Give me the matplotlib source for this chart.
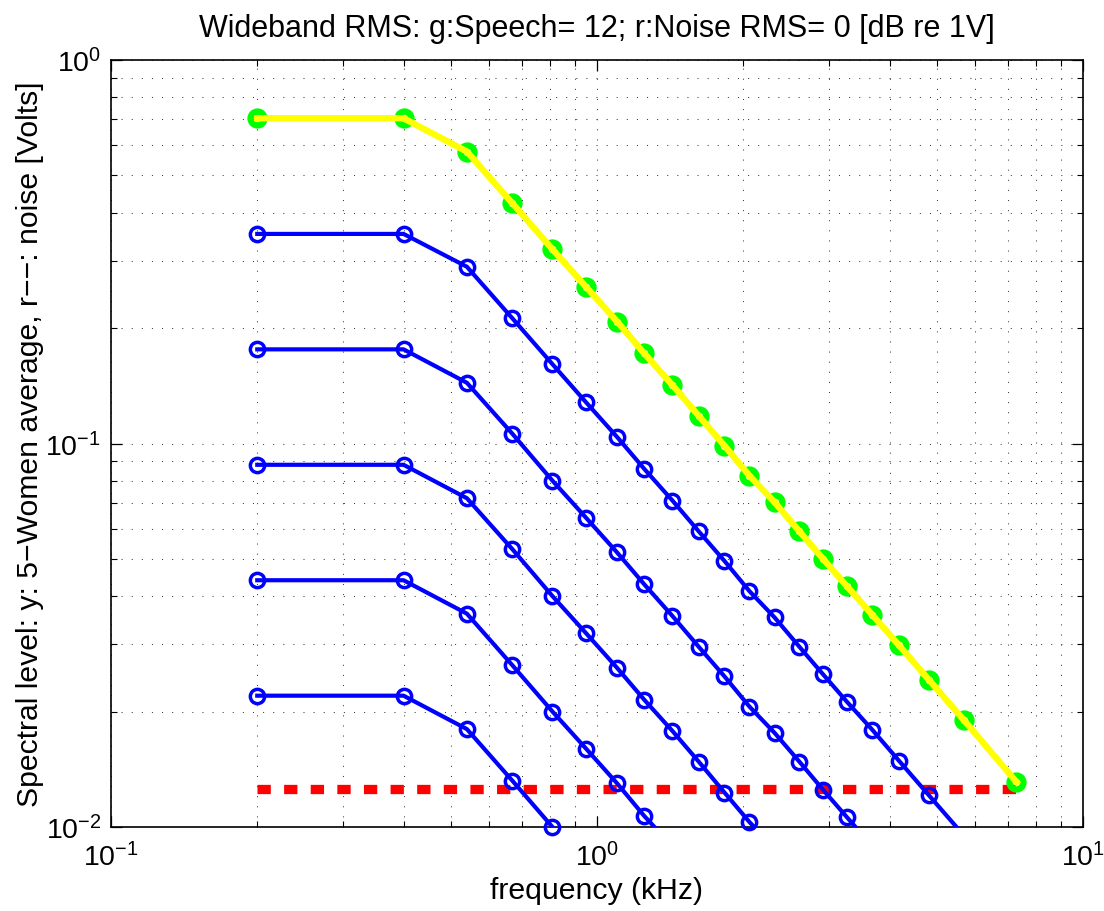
import numpy as np
import matplotlib
matplotlib.use("Agg")
import matplotlib.pyplot as plt
from matplotlib.ticker import LogLocator, NullFormatter

plt.rcParams["font.family"] = ["Liberation Sans", "DejaVu Sans"]
plt.rcParams["mathtext.fontset"] = "custom"
plt.rcParams["mathtext.rm"] = "Liberation Sans"
plt.rcParams["axes.unicode_minus"] = True

# band centre frequencies (kHz)
freqs = [0.2, 0.4, 0.54, 0.67, 0.81, 0.95, 1.1, 1.25, 1.43, 1.62, 1.83,
         2.06, 2.32, 2.61, 2.92, 3.27, 3.69, 4.18, 4.82, 5.69, 7.3]

# 5-women average speech spectrum (Volts)
speech = [0.705, 0.705, 0.577, 0.423, 0.321, 0.256, 0.208, 0.172, 0.142, 0.118, 0.0987,
          0.0824, 0.0703, 0.059, 0.050, 0.0424, 0.0357, 0.0298, 0.0242, 0.019, 0.0131]

# lower speech levels (blue curves)
speech_6 = [0.352, 0.352, 0.289, 0.212, 0.161, 0.128, 0.104, 0.086, 0.071, 0.059, 0.0494,
            0.0412, 0.0352, 0.0295, 0.025, 0.0212, 0.0179, 0.0149, 0.0121, 0.0095, 0.0066]
speech_12 = [0.176, 0.176, 0.144, 0.106, 0.080, 0.064, 0.052, 0.043, 0.0355, 0.0295, 0.0247,
             0.0206, 0.0176, 0.0148, 0.0125, 0.0106, 0.0089, 0.0075, 0.0061, 0.0048, 0.0033]
speech_18 = [0.088, 0.088, 0.072, 0.053, 0.040, 0.032, 0.026, 0.0215, 0.0178, 0.0148, 0.0123,
             0.0103, 0.0088, 0.0074, 0.0062, 0.0053, 0.0045, 0.0037, 0.0030, 0.0024, 0.0016]
speech_24 = [0.044, 0.044, 0.036, 0.0264, 0.020, 0.016, 0.013, 0.0107, 0.0089, 0.0074, 0.0062,
             0.0052, 0.0044, 0.0037, 0.0031, 0.0026, 0.0022, 0.0019, 0.0015, 0.0012, 0.0008]
speech_30 = [0.022, 0.022, 0.018, 0.0132, 0.010, 0.008, 0.0065, 0.0054, 0.0044, 0.0037, 0.0031,
             0.0026, 0.0022, 0.0018, 0.0016, 0.0013, 0.0011, 0.0009, 0.0008, 0.0006, 0.0004]
blue_curves = [speech_6, speech_12, speech_18, speech_24, speech_30]

# noise spectrum level (Volts)
noise = [0.0126] * len(freqs)

title = "Wideband RMS: g:Speech= 12; r:Noise RMS= 0 [dB re 1V]"
xlabel = "frequency (kHz)"
ylabel = "Spectral level: y: 5\u2212Women average, r\u2212\u2212: noise [Volts]"

YMIN, YMAX = 0.01, 1.0

fig = plt.figure(figsize=(11.04, 9.12), dpi=100)
ax = fig.add_axes([0.1005, 0.0921, 0.8804, 0.841])
ax.set_xscale("log")
ax.set_yscale("log")

f = np.array(freqs)

# noise (red dashed)
ax.plot(f, noise, color="red", lw=6.7, linestyle=(0, (1.43, 1.43)),
        dash_capstyle="butt", zorder=2)

# blue curves: lines clipped, markers drawn like matlab (not clipped)
for c in blue_curves:
    v = np.array(c)
    ax.plot(f, v, color="blue", lw=3.0, zorder=3)
    keep = v >= YMIN * 0.99
    ax.plot(f[keep], v[keep], linestyle="none", marker="o", ms=10.3, mew=2.5,
            mec="blue", mfc="none", zorder=4, clip_on=False)

# speech: green rings with yellow line on top
ax.plot(f, speech, linestyle="none", marker="o", ms=10.0, mew=4.6,
        mec=(0, 1, 0), mfc="none", zorder=5, clip_on=False)
ax.plot(f, speech, color=(1, 1, 0), lw=4.6, zorder=6)

ax.set_xlim(0.1, 10)
ax.set_ylim(YMIN, YMAX)

ax.xaxis.set_major_locator(LogLocator(base=10))
ax.yaxis.set_major_locator(LogLocator(base=10))
ax.xaxis.set_minor_locator(LogLocator(base=10, subs=np.arange(2, 10)))
ax.yaxis.set_minor_locator(LogLocator(base=10, subs=np.arange(2, 10)))
ax.xaxis.set_minor_formatter(NullFormatter())
ax.yaxis.set_minor_formatter(NullFormatter())

ax.grid(True, which="both", color="0.25", lw=0.75, linestyle=(0, (1, 8.7)))
ax.set_axisbelow(True)

ax.tick_params(which="both", direction="in", top=True, right=True, labelsize=20.5)
ax.tick_params(which="major", length=8, width=0.9)
ax.tick_params(axis="x", which="major", pad=11)
ax.tick_params(axis="y", which="major", pad=7)
ax.tick_params(which="minor", length=4, width=0.8)
for s in ax.spines.values():
    s.set_linewidth(1.2)

ax.set_title(title, fontsize=22, pad=17)
ax.set_xlabel(xlabel, fontsize=21.8, labelpad=3)
ax.set_ylabel(ylabel, fontsize=21.7, labelpad=1)

fig.savefig("out.png", dpi=100)
